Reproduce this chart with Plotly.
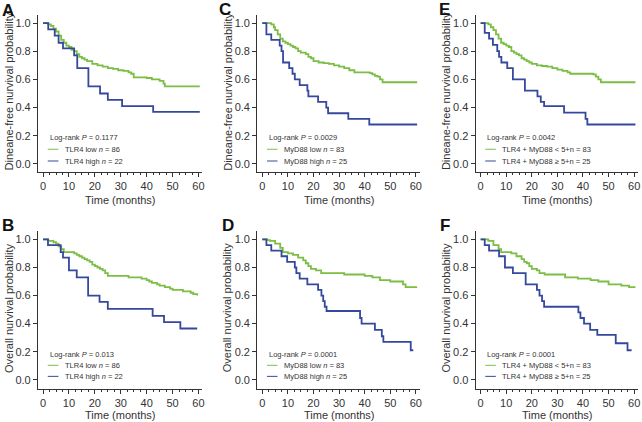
import plotly.graph_objects as go

# ---------------- data ----------------
# Panel A: disease-free, TLR4
a_low_t = [0, 2, 3, 4, 5, 6, 7, 8, 9, 10, 11, 12, 13, 14, 15, 16, 17, 19, 21, 23, 25, 27, 29, 31, 33, 34, 35, 40, 42, 45, 46.5, 47, 60.5]
a_low_s = [1, .99, .98, .96, .94, .91, .88, .86, .84, .83, .81, .80, .78, .76, .75, .74, .73, .71, .70, .69, .68, .675, .665, .66, .65, .64, .615, .61, .60, .59, .57, .55, .55]
a_high_t = [0, 2, 4.5, 6, 7.7, 12, 13.2, 17.5, 22, 25, 30.5, 42.5, 60.5]
a_high_s = [1, .955, .91, .86, .82, .77, .68, .55, .50, .455, .41, .37, .37]

# Panel C: disease-free, MyD88
c_low_t = [0, 3.5, 4.5, 5, 6, 7, 8, 9, 10, 11, 12, 13, 14, 15, 16, 17, 18, 19, 20, 22, 24, 26, 28, 30, 32, 34, 36, 42, 43, 44, 45, 46, 47, 60.5]
c_low_s = [1, .99, .97, .95, .92, .89, .87, .86, .85, .84, .83, .82, .80, .79, .79, .78, .76, .75, .73, .72, .715, .71, .70, .69, .68, .665, .65, .645, .635, .625, .62, .60, .58, .58]
c_high_t = [0, 1.6, 3.5, 6.8, 7.5, 8.1, 10.5, 11.8, 12.7, 14.6, 17.6, 18, 21.8, 25, 25.7, 33.6, 41.8, 60.5]
c_high_s = [1, .92, .88, .84, .80, .72, .68, .64, .60, .56, .52, .48, .44, .40, .36, .32, .28, .28]

# Panel E: disease-free, TLR4 + MyD88
e_low_t = [0, 3, 4, 5, 6, 7, 8, 9, 10, 11, 12, 13, 14, 15, 16, 17, 18, 19, 20, 22, 24, 26, 28, 30, 32, 34, 35, 44, 45, 46, 47, 60.5]
e_low_s = [1, .99, .97, .95, .92, .89, .86, .85, .84, .83, .80, .79, .78, .77, .75, .74, .73, .72, .71, .70, .695, .69, .68, .67, .66, .65, .64, .635, .62, .60, .58, .58]
e_high_t = [0, 1.6, 3.3, 4.8, 6.5, 7.2, 8.1, 10.4, 12.6, 17.3, 22.2, 23.5, 24.8, 32.6, 41, 41.7, 60.5]
e_high_s = [1, .93, .89, .845, .80, .76, .72, .68, .60, .52, .48, .44, .41, .365, .32, .28, .28]

# Panel B: overall, TLR4
b_low_t = [0, 2, 4, 5, 6, 7, 8, 11, 12, 13, 14, 15, 16, 17, 18, 19, 20, 21, 22, 23, 24, 25, 30, 33, 38, 40, 41, 42, 44, 45, 47, 49, 50, 54, 57, 58, 59.5]
b_low_s = [1, .99, .98, .97, .95, .93, .91, .91, .90, .89, .88, .87, .86, .85, .84, .82, .81, .80, .79, .78, .76, .74, .74, .73, .72, .71, .70, .69, .68, .67, .66, .65, .64, .63, .62, .61, .60]
b_high_t = [0, 1.9, 6.8, 7.7, 10, 13, 17.4, 21.8, 25, 42.3, 46.7, 53, 59.5]
b_high_s = [1, .96, .91, .87, .78, .73, .60, .555, .505, .455, .41, .365, .365]

# Panel D: overall, MyD88
d_low_t = [0, 2, 3, 5, 7, 8, 10, 12, 14, 16, 17, 18, 19, 21, 23, 30, 32, 40, 43, 46, 50, 55, 56, 60.5]
d_low_s = [1, .995, .99, .97, .94, .91, .90, .89, .87, .85, .83, .81, .79, .78, .76, .76, .75, .74, .73, .71, .70, .68, .66, .66]
d_high_t = [0, 1.6, 3.5, 7.5, 9.7, 12.7, 13.3, 14.6, 17.6, 21.8, 23.1, 23.8, 24.4, 25.1, 38.2, 38.8, 44, 46.7, 47.3, 58, 59]
d_high_s = [1, .96, .92, .88, .84, .80, .76, .72, .68, .64, .60, .56, .52, .49, .44, .40, .355, .31, .27, .21, .21]

# Panel F: overall, TLR4 + MyD88
f_low_t = [0, 3, 5, 7, 8, 12, 14, 16, 17, 18, 19, 20, 22, 23, 25, 30, 33, 38, 43, 46, 50, 55, 58, 60.5]
f_low_s = [1, .99, .96, .93, .91, .90, .88, .86, .84, .83, .81, .79, .78, .76, .75, .75, .73, .72, .71, .70, .68, .67, .66, .66]
f_high_t = [0, 1.6, 3.3, 7.2, 9.5, 12.6, 17.6, 22, 23, 24, 24.8, 38.2, 39, 40.4, 42.8, 45.6, 52.8, 57.4, 59]
f_high_s = [1, .96, .92, .88, .80, .76, .68, .64, .60, .56, .52, .48, .44, .40, .355, .32, .26, .21, .21]

panel_letters = ["A", "C", "E", "B", "D", "F"]
pvalues = ["0.1177", "0.0029", "0.0042", "0.013", "0.0001", "0.0001"]
low_labels = ["TLR4 low <i>n</i> = 86", "MyD88 low <i>n</i> = 83", "TLR4 + MyD88 &lt; 5+n = 83",
              "TLR4 low <i>n</i> = 86", "MyD88 low <i>n</i> = 83", "TLR4 + MyD88 &lt; 5+n = 83"]
high_labels = ["TLR4 high <i>n</i> = 22", "MyD88 high <i>n</i> = 25", "TLR4 + MyD88 \u2265 5+n = 25",
               "TLR4 high <i>n</i> = 22", "MyD88 high <i>n</i> = 25", "TLR4 + MyD88 \u2265 5+n = 25"]
y_titles = ["Dineane-free nurvival probability"] * 3 + ["Overall nurvival probability"] * 3
x_title = "Time (months)"
x_ticks = [0, 10, 20, 30, 40, 50, 60]
y_ticks = [0.0, 0.2, 0.4, 0.6, 0.8, 1.0]

curves = [
    (a_low_t, a_low_s, a_high_t, a_high_s),
    (c_low_t, c_low_s, c_high_t, c_high_s),
    (e_low_t, e_low_s, e_high_t, e_high_s),
    (b_low_t, b_low_s, b_high_t, b_high_s),
    (d_low_t, d_low_s, d_high_t, d_high_s),
    (f_low_t, f_low_s, f_high_t, f_high_s),
]

# ---------------- layout geometry (pixels) ----------------
W, H = 642, 422
GREEN = "#7cbd45"
BLUE = "#34489e"
AX = "#333333"
FONT = "Liberation Sans"

col_x = [(38, 203), (258, 421), (477, 640)]
row_y = [(15, 172), (231, 389)]
y_ranges = [[-0.057, 1.057], [-0.066, 1.06]]
xtitle_off = [28, 26]
letter_pos = [(0, 10), (218, 9), (438, 9), (0, 225), (221, 225), (439, 225)]
ytitle_x = [9, 228, 447]

fig = go.Figure()
annotations = []
shapes = []

for i in range(6):
    r, c = divmod(i, 3)
    n = i + 1
    xa = "x" if n == 1 else f"x{n}"
    ya = "y" if n == 1 else f"y{n}"
    lt, ls, ht, hs = curves[i]
    fig.add_trace(go.Scatter(x=lt, y=ls, mode="lines", line=dict(color=GREEN, width=1.8, shape="hv"),
                             xaxis=xa, yaxis=ya, showlegend=False, hoverinfo="skip"))
    fig.add_trace(go.Scatter(x=ht, y=hs, mode="lines", line=dict(color=BLUE, width=1.8, shape="hv"),
                             xaxis=xa, yaxis=ya, showlegend=False, hoverinfo="skip"))

    x0, x1 = col_x[c]
    y0, y1 = row_y[r]
    xkey = "xaxis" if n == 1 else f"xaxis{n}"
    ykey = "yaxis" if n == 1 else f"yaxis{n}"
    fig.update_layout(**{
        xkey: dict(domain=[x0 / W, x1 / W], anchor=ya, range=[-2, 61.5],
                   tickvals=x_ticks, showline=True, linecolor=AX, linewidth=1,
                   ticks="outside", ticklen=4, tickcolor=AX, tickwidth=1,
                   tickfont=dict(size=11, color=AX, family=FONT),
                   showgrid=False, zeroline=False,
                   minor=dict(ticks="outside", dtick=2.5, tick0=0, ticklen=2, tickcolor=AX, showgrid=False)),
        ykey: dict(domain=[1 - y1 / H, 1 - y0 / H], anchor=xa, range=y_ranges[r],
                   tickvals=y_ticks, tickformat=".1f", showline=True, linecolor=AX, linewidth=1,
                   ticks="outside", ticklen=4, tickcolor=AX, tickwidth=1,
                   tickfont=dict(size=11, color=AX, family=FONT),
                   showgrid=False, zeroline=False),
    })

    # legend-like text
    ly = [0.22, 0.145, 0.07] if r == 0 else [0.22, 0.15, 0.08]
    dref_x = f"{xa} domain"
    dref_y = f"{ya} domain"
    annotations.append(dict(xref=dref_x, yref=dref_y, x=0.06, y=ly[0], xanchor="left", yanchor="middle",
                            text=f"Log-rank <i>P</i> = {pvalues[i]}", showarrow=False,
                            font=dict(size=7.5, color=AX, family=FONT)))
    annotations.append(dict(xref=dref_x, yref=dref_y, x=0.15, y=ly[1], xanchor="left", yanchor="middle",
                            text=low_labels[i], showarrow=False, font=dict(size=7.5, color=AX, family=FONT)))
    annotations.append(dict(xref=dref_x, yref=dref_y, x=0.15, y=ly[2], xanchor="left", yanchor="middle",
                            text=high_labels[i], showarrow=False, font=dict(size=7.5, color=AX, family=FONT)))
    shapes.append(dict(type="line", xref=dref_x, yref=dref_y, x0=0.06, x1=0.125, y0=ly[1], y1=ly[1],
                       line=dict(color=GREEN, width=1)))
    shapes.append(dict(type="line", xref=dref_x, yref=dref_y, x0=0.06, x1=0.125, y0=ly[2], y1=ly[2],
                       line=dict(color=BLUE, width=1)))

    # axis titles
    annotations.append(dict(xref="paper", yref="paper", x=ytitle_x[c] / W, y=1 - ((y0 + y1) / 2 - 2) / H,
                            text=y_titles[i], textangle=-90, showarrow=False, xanchor="center", yanchor="middle",
                            font=dict(size=11, color=AX, family=FONT)))
    annotations.append(dict(xref=dref_x, yref="paper", x=32 / 63.5,
                            y=1 - (y1 + xtitle_off[r]) / H, text=x_title, showarrow=False,
                            xanchor="center", yanchor="middle",
                            font=dict(size=11, color=AX, family=FONT)))
    # panel letters
    lx, lyp = letter_pos[i]
    annotations.append(dict(xref="paper", yref="paper", x=lx / W, y=1 - lyp / H, text=f"<b>{panel_letters[i]}</b>",
                            showarrow=False, xanchor="left", yanchor="middle",
                            font=dict(size=17, color="#111111", family=FONT)))

fig.update_layout(width=W, height=H, margin=dict(l=0, r=0, t=0, b=0),
                  paper_bgcolor="white", plot_bgcolor="white",
                  annotations=annotations, shapes=shapes, showlegend=False)

fig.write_html("out.html", config={"displayModeBar": False},
               post_script="document.body.style.margin='0';document.body.style.overflow='hidden';")
